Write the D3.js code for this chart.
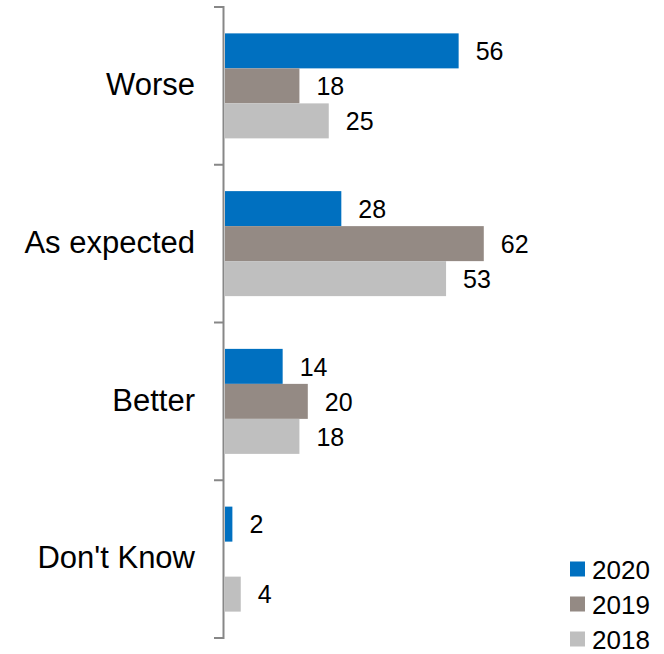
<!DOCTYPE html>
<html><head><meta charset="utf-8">
<script src="https://cdn.jsdelivr.net/npm/d3@7"></script>
<style>body{margin:0;background:#fff}svg{display:block}text{font-family:"Liberation Sans",Arial,sans-serif;fill:#000}</style>
</head><body><div id="chart"></div>
<script>
const categories = ["Worse", "As expected", "Better", "Don't Know"];
const seriesNames = ["2020", "2019", "2018"];
const values2020 = [56, 28, 14, 2];
const values2019 = [18, 62, 20, null];
const values2018 = [25, 53, 18, 4];
const colors = ["#0070C0", "#948A84", "#BFBFBF"];

const seriesValues = [values2020, values2019, values2018];
const W = 664, H = 654;
const svg = d3.select("#chart").append("svg").attr("width", W).attr("height", H);

const axisX = 224;
const y = d3.scaleBand().domain(categories).range([7, 638]).paddingInner(0).paddingOuter(0);
const x = d3.scaleLinear().domain([0, 100]).range([axisX, axisX + 419]);

const data = [];
categories.forEach((c, i) => seriesNames.forEach((s, j) => {
  const v = seriesValues[j][i];
  if (v != null) data.push({c, s, j, v});
}));

const barH = 35;
const groupOffset = (y.bandwidth() - barH * 3) / 2;

svg.selectAll("rect.bar").data(data).enter().append("rect")
  .attr("class", "bar")
  .attr("x", axisX + 1)
  .attr("y", d => y(d.c) + groupOffset + d.j * barH)
  .attr("width", d => x(d.v) - axisX - 1)
  .attr("height", barH)
  .attr("fill", d => colors[d.j]);

svg.selectAll("text.val").data(data).enter().append("text")
  .attr("class", "val")
  .attr("x", d => x(d.v) + 17)
  .attr("y", d => y(d.c) + groupOffset + d.j * barH + barH / 2)
  .attr("dy", "0.37em")
  .attr("font-size", 25)
  .text(d => d.v);

// axis
const g = svg.append("g").attr("transform", `translate(${axisX},0)`);
g.append("line").attr("x1", -0.5).attr("x2", -0.5).attr("y1", 6).attr("y2", 639).attr("stroke", "#878787").attr("stroke-width", 2);
const bounds = [7].concat(categories.map(c => y(c) + y.bandwidth()));
g.selectAll("line.tick").data(bounds).enter().append("line")
  .attr("x1", -10).attr("x2", 0).attr("y1", d => d).attr("y2", d => d)
  .attr("stroke", "#878787").attr("stroke-width", 2);

svg.selectAll("text.cat").data(categories).enter().append("text")
  .attr("class", "cat")
  .attr("x", 195)
  .attr("y", d => y(d) + y.bandwidth() / 2)
  .attr("dy", "0.3em")
  .attr("text-anchor", "end")
  .attr("font-size", 31)
  .text(d => d);

// legend
const leg = svg.append("g");
seriesNames.forEach((s, j) => {
  const cy = 569 + j * 35;
  leg.append("rect").attr("x", 570).attr("y", cy - 7.5).attr("width", 15).attr("height", 15).attr("fill", colors[j]);
  leg.append("text").attr("x", 592).attr("y", cy + 9.5).attr("font-size", 26).text(s);
});
</script></body></html>
